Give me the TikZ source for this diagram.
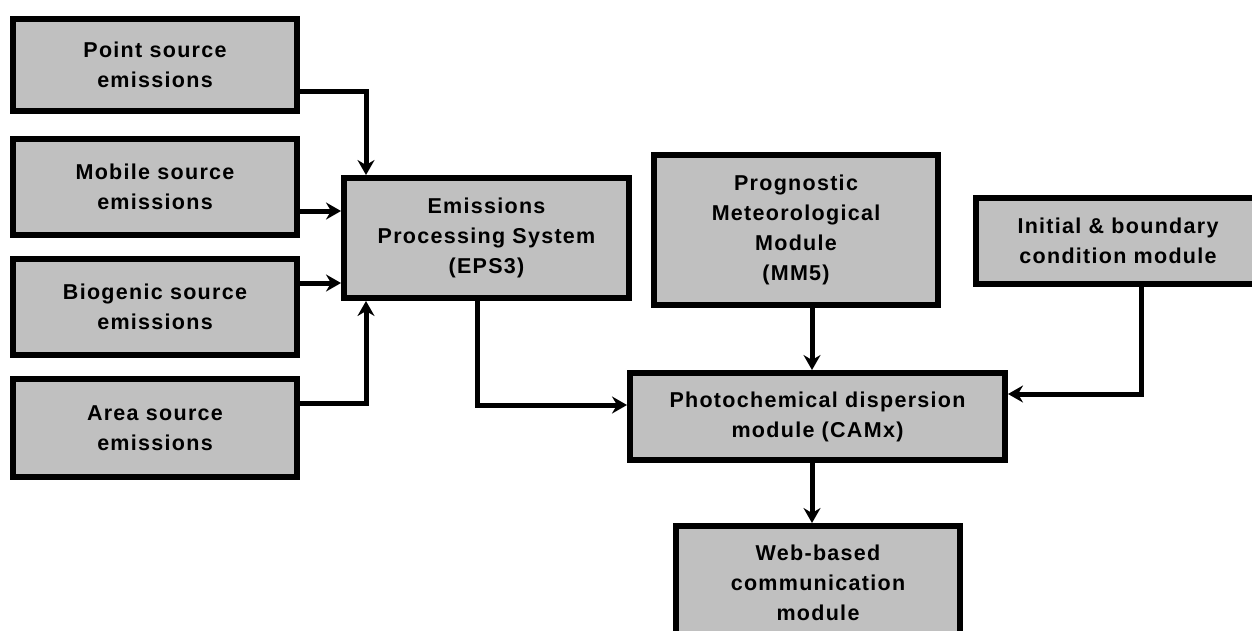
\documentclass[tikz,border=0pt]{standalone}
\usepackage{fontspec}
\setmainfont{Liberation Sans}
\newfontfamily\lblfont[LetterSpace=6]{Liberation Sans}
\usetikzlibrary{arrows.meta}
\definecolor{boxgray}{RGB}{192,192,192}
\tikzset{
  blk/.style={draw=black, line width=6pt, fill=boxgray, inner sep=0pt, align=center,
    font=\lblfont\bfseries\fontsize{21.5}{30}\selectfont},
  arr/.style={line width=5pt, line join=miter, -{Stealth[length=15pt,width=17pt,inset=5pt]}},
  ln/.style={line width=5pt, line join=miter}
}
\begin{document}
\begin{tikzpicture}[x=1pt,y=-1pt]
\useasboundingbox (0,0) rectangle (1252,630);
% boxes
\node[blk, minimum width=284pt, minimum height=92pt] (point) at (155,65) {Point source\\emissions};
\node[blk, minimum width=284pt, minimum height=96pt] (mobile) at (155,187) {Mobile source\\emissions};
\node[blk, minimum width=284pt, minimum height=96pt] (bio) at (155,307) {Biogenic source\\emissions};
\node[blk, minimum width=284pt, minimum height=98pt] (area) at (155,428) {Area source\\emissions};
\node[blk, minimum width=285pt, minimum height=120pt] (eps) at (486.5,238) {Emissions\\Processing System\\(EPS3)};
\node[blk, minimum width=284pt, minimum height=150pt] (prog) at (796,230) {Prognostic\\Meteorological\\Module\\(MM5)};
\node[blk, minimum width=284pt, minimum height=86pt] (init) at (1118,241) {Initial \& boundary\\condition module};
\node[blk, minimum width=375pt, minimum height=87pt] (photo) at (817.5,416.5) {Photochemical dispersion\\module (CAMx)};
\node[blk, minimum width=284pt, minimum height=114pt] (web) at (818,583) {Web-based\\communication\\module};
% routing points
\coordinate (c1) at (366,91);
\coordinate (c2) at (366,211);
\coordinate (c3) at (366,283);
\coordinate (c4) at (366,403);
\coordinate (c5) at (477,405);
\coordinate (c6) at (812,0);
\coordinate (c7) at (1141,394);
% connectors
\draw[arr] (point.east |- c1) -| (eps.north -| c1);
\draw[arr] (mobile.east |- c2) -- (eps.west |- c2);
\draw[arr] (bio.east |- c3) -- (eps.west |- c3);
\draw[arr] (area.east |- c4) -| (eps.south -| c4);
\draw[arr] (eps.south -| c5) |- (photo.west |- c5);
\draw[arr] (prog.south -| c6) -- (photo.north -| c6);
\draw[arr] (init.south -| c7) |- (photo.east |- c7);
\draw[arr] (photo.south -| c6) -- (web.north -| c6);
\end{tikzpicture}
\end{document}
